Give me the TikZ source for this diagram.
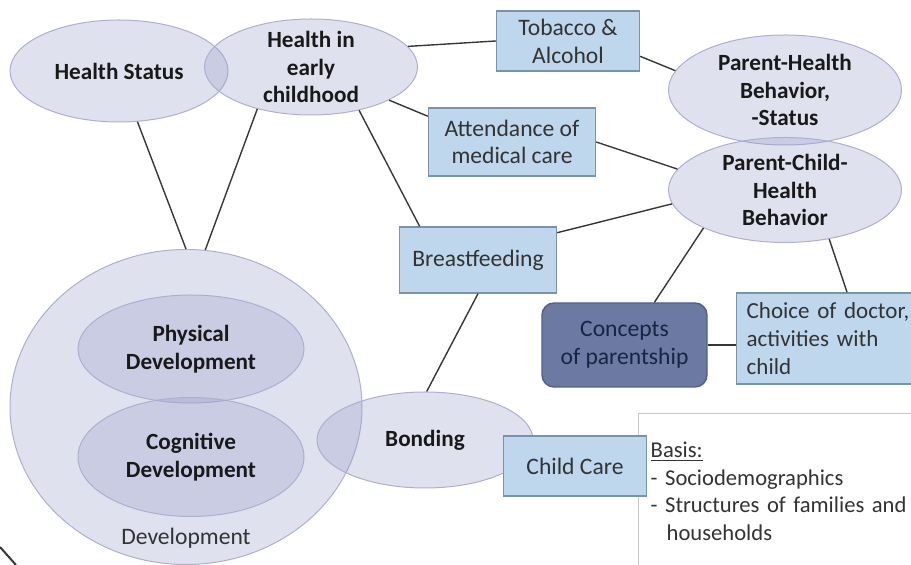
\documentclass[tikz,border=0pt]{standalone}
\usepackage{fontspec}
\setmainfont{Carlito}
\usepackage{xcolor}
\usepackage{tikz}
\usetikzlibrary{shapes.geometric}
\definecolor{ellfill}{RGB}{150,155,198}
\definecolor{elldraw}{RGB}{172,176,208}
\definecolor{boxfill}{RGB}{190,215,236}
\definecolor{boxdraw}{RGB}{118,148,176}
\definecolor{conceptfill}{RGB}{108,121,163}
\definecolor{conceptdraw}{RGB}{84,95,135}
\definecolor{concepttext}{RGB}{25,35,68}
\definecolor{linkgray}{RGB}{55,55,55}

\begin{document}
\begin{tikzpicture}[
x=0.5pt, y=-0.5pt,
every node/.style={font=\fontsize{11.8}{13.9}\selectfont},
MyEllipses/.style={ellipse,draw=elldraw,line width=0.5pt,fill=ellfill,fill opacity=0.3,inner sep=0pt},
EllText/.style={font=\fontsize{11.6}{13.8}\selectfont\bfseries,align=center,text=black!90},
MyBoxes/.style={rectangle,draw=boxdraw,line width=0.7pt,fill=boxfill,text=black!80,align=center,inner sep=0pt},
Concept/.style={rectangle,rounded corners=6pt,draw=conceptdraw,line width=0.7pt,fill=conceptfill,text=concepttext,align=center,inner sep=0pt},
BasisBox/.style={rectangle,draw=black!22,line width=0.7pt,fill=white,text=black!80,align=left,font=\fontsize{11.3}{13.9}\selectfont},
Links/.style={draw=linkgray,line width=0.7pt}
]
\useasboundingbox (0,0) rectangle (911,565);
\clip (0,0) rectangle (911,565);

% ellipses (development side)
\node (dev) [MyEllipses,minimum width=176pt,minimum height=157.5pt,
  label={[anchor=center,yshift=13.25pt,text=black!80]south:Development}] at (186,407) {};
\node (phys) [MyEllipses,minimum width=113pt,minimum height=54pt,
  label={[EllText]center:{Physical\\Development}}] at (191,349) {};
\node (cog) [MyEllipses,minimum width=113pt,minimum height=59.5pt,
  label={[EllText]center:{Cognitive\\Development}}] at (191,457) {};
\node (bond) [MyEllipses,minimum width=108pt,minimum height=48pt,
  label={[EllText]center:{Bonding}}] at (425,440) {};

% ellipses (health side)
\node (hs) [MyEllipses,minimum width=109pt,minimum height=51pt,
  label={[EllText]center:{Health Status}}] at (119,71) {};
\node (hec) [MyEllipses,minimum width=106.5pt,minimum height=48pt,
  label={[EllText]center:{Health in\\early\\childhood}}] at (311,67) {};
\node (phb) [MyEllipses,minimum width=116.5pt,minimum height=55pt,
  label={[EllText]center:{Parent-Health\\Behavior,\\-Status}}] at (785,90) {};
\node (pchb) [MyEllipses,minimum width=116.5pt,minimum height=52.5pt,
  label={[EllText]center:{Parent-Child-\\Health\\Behavior}}] at (785,190) {};

% boxes
\node (tob) [MyBoxes,minimum width=71.5pt,minimum height=30pt] at (568,41) {Tobacco \&\\Alcohol};
\node (att) [MyBoxes,minimum width=83.5pt,minimum height=34pt] at (512,142) {Attendance of\\medical care};
\node (bf) [MyBoxes,minimum width=78.5pt,minimum height=33pt] at (478,260) {Breastfeeding};
\node (con) [Concept,minimum width=82.5pt,minimum height=42pt] at (624.5,345) {Concepts\\of parentship};
\node (cho) [MyBoxes,anchor=west,align=left,text width=88pt,inner xsep=5pt,minimum height=45.5pt,
  font=\fontsize{11.5}{13.9}\selectfont] at (736,338.5) {Choice of doctor,\\activities with\\child};
\node (basis) [BasisBox,anchor=north west,text width=140pt,inner xsep=6pt,inner ysep=14pt]
  at (638,413) {\underline{Basis:}\\- Sociodemographics\\- Structures of families and\\\hspace*{8pt}households};
\node (cc) [MyBoxes,minimum width=71.5pt,minimum height=30pt] at (575,466) {Child Care};

% links
\draw[Links] (hs.-70) -- (dev.90);
\draw[Links] (hec.-142) -- (dev.83);
\draw[Links] (hec.12) -- (tob.west);
\draw[Links] (hec.-23) -- (att.163);
\draw[Links] (hec.-42) -- (bf.150);
\draw[Links] (tob.-12) -- (phb.170);
\draw[Links] (att.east) -- (pchb.169);
\draw[Links] (bf.19) -- (pchb.187);
\draw[Links] (pchb.-155) -- (con.55);
\draw[Links] (pchb.-48) -- (cho.75);
\draw[Links] (con.east) -- (con.east -| cho.west);
\draw[Links] (bf.south) -- (bond.88);

% corner mark
\draw[linkgray,line width=1pt] (0,547) -- (16,565);
\end{tikzpicture}
\end{document}
